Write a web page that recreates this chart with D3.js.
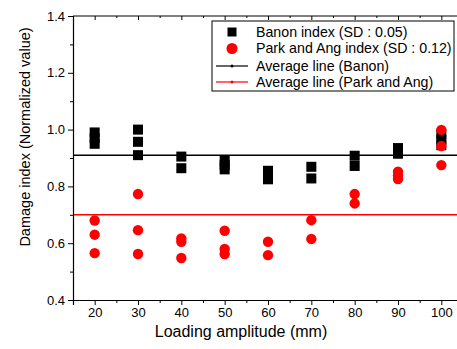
<!DOCTYPE html>
<html>
<head>
<meta charset="utf-8">
<script src="https://cdn.jsdelivr.net/npm/d3@7"></script>
<style>
  body { margin: 0; background: #fff; }
  svg { font-family: Arial, "Liberation Sans", sans-serif; }
</style>
</head>
<body>
<div class="result"></div>
<script>
// Data
const amplitudes = [20, 30, 40, 50, 60, 70, 80, 90, 100];
const banonValues = [
  [0.99, 0.97, 0.95],
  [1.00, 0.957, 0.91],
  [0.905, 0.864],
  [0.89, 0.875, 0.86],
  [0.855, 0.84, 0.825],
  [0.869, 0.828],
  [0.908, 0.872],
  [0.935, 0.925, 0.915],
  [0.985, 0.965, 0.945]
];
const parkAngValues = [
  [0.68, 0.63, 0.565],
  [0.773, 0.646, 0.562],
  [0.617, 0.605, 0.548],
  [0.644, 0.58, 0.562],
  [0.605, 0.558],
  [0.681, 0.615],
  [0.773, 0.74],
  [0.852, 0.838, 0.826],
  [0.999, 0.942, 0.875]
];
const banonAverage = 0.91;
const parkAngAverage = 0.70;
const xTicks = [20, 30, 40, 50, 60, 70, 80, 90, 100];
const yTicks = [0.4, 0.6, 0.8, 1.0, 1.2, 1.4];
const legendLabels = ['Banon index (SD : 0.05)', 'Park and Ang index (SD : 0.12)',
  'Average line (Banon)', 'Average line (Park and Ang)'];

// Width and height
const w = 457;
const h = 349;
const padLeft = 73, padRight = 463, padTop = 16, padBottom = 300;

const xScale = d3.scaleLinear().domain([15, 105]).range([padLeft, padRight]);
const yScale = d3.scaleLinear().domain([0.4, 1.4]).range([padBottom, padTop]);

const svg = d3.select('.result')
  .append('svg')
  .attr('width', w)
  .attr('height', h);

// Average lines
svg.append('line')
  .attr('x1', padLeft).attr('x2', padRight)
  .attr('y1', yScale(banonAverage)).attr('y2', yScale(banonAverage))
  .attr('stroke', '#000').attr('stroke-width', 1.5);
svg.append('line')
  .attr('x1', padLeft).attr('x2', padRight)
  .attr('y1', yScale(parkAngAverage)).attr('y2', yScale(parkAngAverage))
  .attr('stroke', '#ff0000').attr('stroke-width', 1.5);

// Points
const banonPts = [];
const parkPts = [];
amplitudes.forEach(function (a, i) {
  banonValues[i].forEach(function (v) { banonPts.push([a, v]); });
  parkAngValues[i].forEach(function (v) { parkPts.push([a, v]); });
});

const sq = 10;
svg.selectAll('rect.banon')
  .data(banonPts)
  .enter()
  .append('rect')
  .attr('class', 'banon')
  .attr('x', function (d) { return xScale(d[0]) - sq / 2; })
  .attr('y', function (d) { return yScale(d[1]) - sq / 2; })
  .attr('width', sq)
  .attr('height', sq)
  .attr('fill', '#000');

svg.selectAll('circle.park')
  .data(parkPts)
  .enter()
  .append('circle')
  .attr('class', 'park')
  .attr('cx', function (d) { return xScale(d[0]); })
  .attr('cy', function (d) { return yScale(d[1]); })
  .attr('r', 5.2)
  .attr('fill', '#ff0000');

// Axes
const xAxis = d3.axisBottom(xScale).tickValues(xTicks).tickSize(5).tickPadding(3);
const yAxis = d3.axisLeft(yScale).tickValues(yTicks).tickSize(5).tickPadding(3)
  .tickFormat(d3.format('.1f'));

svg.append('g')
  .attr('transform', 'translate(0,' + padBottom + ')')
  .call(xAxis);
svg.append('g')
  .attr('transform', 'translate(' + padLeft + ',0)')
  .call(yAxis);

// minor ticks
const xMinor = xTicks.map(function (t) { return t + 5; });
const yMinor = yTicks.slice(0, -1).map(function (t) { return t + 0.1; });
svg.append('g')
  .attr('transform', 'translate(0,' + padBottom + ')')
  .call(d3.axisBottom(xScale).tickValues(xMinor).tickSize(3).tickFormat(''))
  .select('.domain').remove();
svg.append('g')
  .attr('transform', 'translate(' + padLeft + ',0)')
  .call(d3.axisLeft(yScale).tickValues(yMinor).tickSize(3).tickFormat(''))
  .select('.domain').remove();

// top axis (inward ticks)
svg.append('g')
  .attr('transform', 'translate(0,' + padTop + ')')
  .call(d3.axisBottom(xScale).tickValues(xTicks).tickSize(4).tickFormat(''))
  .select('.domain').remove();
svg.append('g')
  .attr('transform', 'translate(0,' + padTop + ')')
  .call(d3.axisBottom(xScale).tickValues(xMinor).tickSize(2).tickFormat(''))
  .select('.domain').remove();
svg.append('line')
  .attr('x1', padLeft).attr('x2', padRight)
  .attr('y1', padTop).attr('y2', padTop)
  .attr('stroke', '#000').attr('stroke-width', 1.2);

svg.selectAll('.domain').attr('stroke-width', 1.2);
svg.selectAll('.tick line').attr('stroke-width', 1);
svg.selectAll('.tick text')
  .attr('font-size', 13)
  .attr('font-family', 'Arial, "Liberation Sans", sans-serif')
  .attr('fill', '#000');

// Axis titles
svg.append('text')
  .attr('x', 241)
  .attr('y', 337)
  .attr('text-anchor', 'middle')
  .attr('font-size', 16)
  .text('Loading amplitude (mm)');
svg.append('text')
  .attr('transform', 'translate(30,137) rotate(-90)')
  .attr('text-anchor', 'middle')
  .attr('font-size', 14.5)
  .text('Damage index (Normalized value)');

// Legend
const lg = svg.append('g');
lg.append('rect')
  .attr('x', 212).attr('y', 21)
  .attr('width', 242).attr('height', 70)
  .attr('fill', '#fff')
  .attr('stroke', '#000').attr('stroke-width', 1);
const rowY = [32, 48.5, 66, 82];
lg.append('rect')
  .attr('x', 232 - 4.5).attr('y', rowY[0] - 4.5)
  .attr('width', 9).attr('height', 9).attr('fill', '#000');
lg.append('circle')
  .attr('cx', 232).attr('cy', rowY[1]).attr('r', 5.5).attr('fill', '#ff0000');
[['#000', rowY[2]], ['#ff0000', rowY[3]]].forEach(function (d) {
  lg.append('line')
    .attr('x1', 216).attr('x2', 248)
    .attr('y1', d[1]).attr('y2', d[1])
    .attr('stroke', d[0]).attr('stroke-width', 1.2);
  lg.append('circle')
    .attr('cx', 232).attr('cy', d[1]).attr('r', 1.5).attr('fill', d[0]);
});
lg.selectAll('text.leg')
  .data(legendLabels)
  .enter()
  .append('text')
  .attr('class', 'leg')
  .attr('x', 256)
  .attr('y', function (d, i) { return rowY[i]; })
  .attr('dy', '0.35em')
  .attr('font-size', 14.2)
  .text(function (d) { return d; });
</script>
</body>
</html>
